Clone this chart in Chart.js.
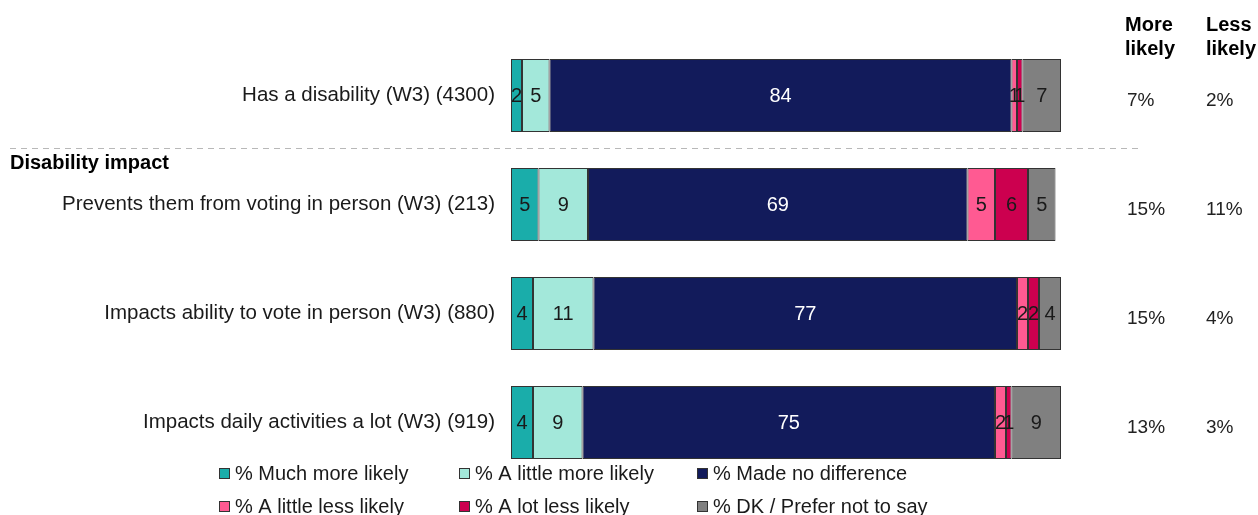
<!DOCTYPE html>
<html>
<head>
<meta charset="utf-8">
<script src="https://cdn.jsdelivr.net/npm/chart.js@4/dist/chart.umd.min.js"></script>
<style>
  html, body { margin: 0; padding: 0; background: #fff; }
  #wrap { position: relative; width: 1258px; height: 515px; }
</style>
</head>
<body>
<div id="wrap"><canvas id="c" width="1258" height="515"></canvas></div>
<script>
const categories = [
  'Has a disability (W3) (4300)',
  'Prevents them from voting in person (W3) (213)',
  'Impacts ability to vote in person (W3) (880)',
  'Impacts daily activities a lot (W3) (919)'
];
const seriesNames = ['% Much more likely', '% A little more likely', '% Made no difference',
                     '% A little less likely', '% A lot less likely', '% DK / Prefer not to say'];
const muchMore   = [2, 5, 4, 4];
const littleMore = [5, 9, 11, 9];
const noDiff     = [84, 69, 77, 75];
const littleLess = [1, 5, 2, 2];
const lotLess    = [1, 6, 2, 1];
const dk         = [7, 5, 4, 9];
const moreLikely = ['7%', '15%', '15%', '13%'];
const lessLikely = ['2%', '11%', '4%', '3%'];
const colors = ['#1AADAA', '#A3E8DA', '#121B5B', '#FF5A92', '#CC004F', '#808080'];
const labelColors = ['#1a1a1a', '#1a1a1a', '#ffffff', '#1a1a1a', '#1a1a1a', '#1a1a1a'];
const FONT = '"Liberation Sans", Arial, sans-serif';

const seriesData = [muchMore, littleMore, noDiff, littleLess, lotLess, dk];

const datasets = seriesData.map((d, i) => ({
  label: seriesNames[i],
  data: d,
  backgroundColor: colors[i],
  borderColor: '#333333',
  borderWidth: 1,
  borderSkipped: false,
  categoryPercentage: 1,
  barPercentage: 0.67
}));

const extras = {
  id: 'extras',
  afterDatasetsDraw(chart) {
    const ctx = chart.ctx;
    const ys = chart.scales.y;
    ctx.save();
    // value labels inside bars
    ctx.font = '20px ' + FONT;
    ctx.textAlign = 'center';
    ctx.textBaseline = 'middle';
    chart.data.datasets.forEach((ds, di) => {
      const meta = chart.getDatasetMeta(di);
      meta.data.forEach((bar, i) => {
        const x = (bar.x + bar.base) / 2;
        ctx.fillStyle = labelColors[di];
        ctx.fillText(String(ds.data[i]), x, bar.y + 1);
      });
    });
    // right-hand columns
    ctx.textAlign = 'left';
    ctx.fillStyle = '#222';
    ctx.font = '19px ' + FONT;
    categories.forEach((c, i) => {
      const y = ys.getPixelForValue(i) + 5;
      ctx.fillText(moreLikely[i], 1127, y);
      ctx.fillText(lessLikely[i], 1206, y);
    });
    ctx.font = 'bold 20px ' + FONT;
    ctx.fillStyle = '#000';
    ctx.fillText('More', 1125, 25);
    ctx.fillText('likely', 1125, 49);
    ctx.fillText('Less', 1206, 25);
    ctx.fillText('likely', 1206, 49);
    // separator + section heading
    const sepY = (ys.getPixelForValue(0) + ys.getPixelForValue(1)) / 2 - 2;
    ctx.strokeStyle = '#b8b8b8';
    ctx.lineWidth = 1;
    ctx.setLineDash([6, 5]);
    ctx.beginPath();
    ctx.moveTo(10, Math.round(sepY) + 0.5);
    ctx.lineTo(1140, Math.round(sepY) + 0.5);
    ctx.stroke();
    ctx.setLineDash([]);
    ctx.font = 'bold 20px ' + FONT;
    ctx.fillStyle = '#000';
    ctx.fillText('Disability impact', 10, sepY + 15);
    // legend
    ctx.font = '20px ' + FONT;
    const cols = [219, 459, 697];
    const rows = [473, 506];
    seriesNames.forEach((n, i) => {
      const cx = cols[i % 3];
      const cy = rows[Math.floor(i / 3)];
      ctx.fillStyle = colors[i];
      ctx.fillRect(cx, cy - 5, 11, 11);
      ctx.strokeStyle = '#333';
      ctx.strokeRect(cx + 0.5, cy - 4.5, 10, 10);
      ctx.fillStyle = '#1a1a1a';
      ctx.fillText(n, cx + 16, cy + 1);
    });
    ctx.restore();
  }
};

new Chart(document.getElementById('c'), {
  type: 'bar',
  data: { labels: categories, datasets },
  options: {
    indexAxis: 'y',
    responsive: false,
    animation: false,
    layout: { padding: { left: 0, right: 197, top: 41, bottom: 38 } },
    plugins: { legend: { display: false }, tooltip: { enabled: false } },
    scales: {
      x: { stacked: true, min: 0, max: 100, display: false },
      y: {
        stacked: true,
        grid: { display: false, drawTicks: false },
        border: { display: false },
        ticks: { color: '#1a1a1a', font: { size: 20.5, family: FONT }, padding: 16 },
        afterFit(axis) { axis.width = 511; }
      }
    }
  },
  plugins: [extras]
});
</script>
</body>
</html>
